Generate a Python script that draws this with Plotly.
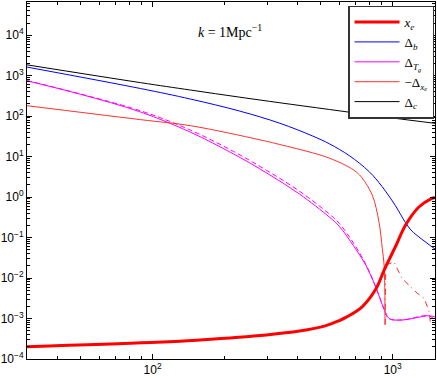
import math
import plotly.graph_objects as go

# values (x = 1+z style axis, log-log)
x_c = [30, 89, 144, 231, 339, 545, 1000, 1500]
delta_c = [1850, 673, 441, 294, 214, 146, 90, 66.5]

x_b = [30, 89, 144, 231, 339, 464, 545, 659, 798, 903, 1027, 1130, 1202, 1285, 1500]
delta_b = [1630, 482, 264, 133, 66.7, 32.3, 20.7, 10.6, 4.25, 1.82, 0.61, 0.235, 0.145, 0.104, 0.052]

x_tg = [30, 50, 89, 144, 217, 298, 409, 545, 599, 690, 772, 850, 921, 966, 1093, 1413, 1500]
delta_tg = [748, 348, 127, 40, 11.7, 3.97, 1.19, 0.32, 0.19, 0.06, 0.021, 0.006, 0.0017,
            0.001, 0.00092, 0.00117, 0.0011]

x_tg2 = [30, 89, 144, 217, 298, 409, 545, 599, 690, 772, 850, 921, 966, 1093, 1413, 1500]
delta_tg2 = [760, 136, 45, 13.5, 4.6, 1.4, 0.38, 0.225, 0.07, 0.022, 0.006, 0.0017, 0.001,
             0.00092, 0.00117, 0.0009]

x_mxe = [30, 89, 144, 280, 339, 464, 545, 641, 705, 746, 822, 877, 905, 921, 929]
minus_dxe = [181, 82, 58, 26, 19.9, 12.4, 9.16, 5.98, 4.18, 2.96, 1.12, 0.24, 0.053, 0.02, 0.0007]

x_pxe = [930, 935, 1012, 1093, 1265, 1350, 1413, 1440]
plus_dxe = [0.0007, 0.021, 0.025, 0.0098, 0.0042, 0.0032, 0.0016, 0.0007]

x_xe = [30, 98, 158, 298, 409, 524, 599, 641, 746, 853, 921, 1033, 1130, 1285, 1449, 1500]
xe = [2.02e-4, 2.54e-4, 2.96e-4, 3.93e-4, 4.9e-4, 6.6e-4, 8.9e-4, 1.08e-3, 1.95e-3, 5.5e-3,
      0.0157, 0.0646, 0.201, 0.568, 0.914, 0.98]

x_major = [100, 1000]
x_major_text = ['10<sup>2</sup>', '10<sup>3</sup>']
y_major = [10.0 ** p for p in range(-4, 5)]
y_major_text = ['10<sup>%s</sup>' % (str(p).replace('-', '−')) for p in range(-4, 5)]

x_minor = [k * 10 ** d for d in (1, 2) for k in range(2, 10) if 30 < k * 10 ** d < 1500]
y_minor = [k * 10.0 ** d for d in range(-4, 5) for k in range(2, 10)]

serif = 'Liberation Serif'
sans = 'Liberation Sans'
smooth = 1.0


def curve(x, y, name, color, width=1, dash=None, rank=None, spline=True):
    line = dict(color=color, width=width)
    if spline:
        line.update(shape='spline', smoothing=smooth)
    if dash:
        line['dash'] = dash
    return go.Scatter(x=x, y=y, mode='lines', name=name, line=line,
                      showlegend=rank is not None, legendrank=rank or 1000)


fig = go.Figure()
fig.add_trace(curve(x_tg2, delta_tg2, None, '#ff00ff', dash='5px,3px'))
fig.add_trace(curve(x_pxe, plus_dxe, None, '#ff3030', dash='6px,4px,1px,4px', spline=False))
fig.add_trace(curve(x_b, delta_b, 'Δ<sub><i>b</i></sub>', '#0000ff', rank=2))
fig.add_trace(curve(x_tg, delta_tg, 'Δ<sub><i>T<sub>g</sub></i></sub>', '#ff00ff', rank=3))
fig.add_trace(curve(x_mxe, minus_dxe, '−Δ<sub><i>x<sub>e</sub></i></sub>', '#ff3030', rank=4))
fig.add_trace(curve(x_c, delta_c, 'Δ<sub><i>c</i></sub>', 'black', rank=5))
fig.add_trace(curve(x_xe, xe, '<i>x<sub>e</sub></i>', '#ff0000', width=3, rank=1))

fig.add_annotation(text='<i>k</i> = 1Mpc<sup>−1</sup>', x=0.4976, y=0.95, xref='paper', yref='paper',
                   showarrow=False, font=dict(family=serif, size=14, color='black'))

axis_common = dict(showgrid=False, zeroline=False, showline=True, linecolor='black', linewidth=1,
                   mirror='ticks', ticks='inside', ticklen=5, tickcolor='black', tickwidth=1,
                   tickfont=dict(family=sans, size=12, color='black'))

fig.update_xaxes(type='log', range=[math.log10(30), math.log10(1500)], tickmode='array',
                 tickvals=x_major, ticktext=x_major_text,
                 minor=dict(tickvals=x_minor, ticks='inside', ticklen=3, tickcolor='black'),
                 **axis_common)
fig.update_yaxes(type='log', range=[-4, 4.82], tickmode='array',
                 tickvals=y_major, ticktext=y_major_text,
                 minor=dict(tickvals=y_minor, ticks='inside', ticklen=3, tickcolor='black'),
                 **axis_common)

fig.update_layout(
    width=437, height=378,
    margin=dict(l=26, r=1, t=1, b=19),
    plot_bgcolor='white', paper_bgcolor='white',
    legend=dict(x=0.9976, y=0.99, xanchor='right', yanchor='top', bgcolor='white',
                bordercolor='#333333', borderwidth=1.5, itemwidth=45,
                font=dict(family=serif, size=13, color='black'), tracegroupgap=0),
)

# drop the browser's default body margin so the 437x378 figure fills the window
fig.write_html("out.html", config={'displayModeBar': False},
               post_script="document.body.style.margin='0';")
